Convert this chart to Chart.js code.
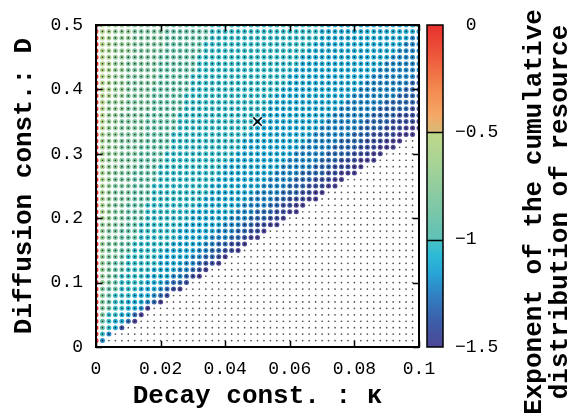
<!DOCTYPE html>
<html>
<head>
<meta charset="utf-8">
<script src="https://cdn.jsdelivr.net/npm/chart.js@4.4.1/dist/chart.umd.min.js"></script>
<style>
  html, body { margin: 0; padding: 0; background: #fff; }
  #wrap { width: 584px; height: 419px; }
</style>
</head>
<body>
<div id="wrap"><canvas id="c" width="584" height="419"></canvas></div>
<script>
// grid of decay constants (x) and diffusion constants (y)
const kappaValues = [0, 0.002, 0.004, 0.006, 0.008, 0.01, 0.012, 0.014, 0.016, 0.018,
  0.02, 0.022, 0.024, 0.026, 0.028, 0.03, 0.032, 0.034, 0.036, 0.038,
  0.04, 0.042, 0.044, 0.046, 0.048, 0.05, 0.052, 0.054, 0.056, 0.058,
  0.06, 0.062, 0.064, 0.066, 0.068, 0.07, 0.072, 0.074, 0.076, 0.078,
  0.08, 0.082, 0.084, 0.086, 0.088, 0.09, 0.092, 0.094, 0.096, 0.098, 0.1];
const diffValues = [0.01, 0.02, 0.03, 0.04, 0.05, 0.06, 0.07, 0.08, 0.09, 0.1,
  0.11, 0.12, 0.13, 0.14, 0.15, 0.16, 0.17, 0.18, 0.19, 0.2,
  0.21, 0.22, 0.23, 0.24, 0.25, 0.26, 0.27, 0.28, 0.29, 0.3,
  0.31, 0.32, 0.33, 0.34, 0.35, 0.36, 0.37, 0.38, 0.39, 0.4,
  0.41, 0.42, 0.43, 0.44, 0.45, 0.46, 0.47, 0.48, 0.49, 0.5];

// exponent level codes
const levelValues = { '0': 0, '1': -0.1, '2': -0.2, '3': -0.3, '4': -0.4, '5': -0.55, '6': -0.62,
  '7': -0.72, '8': -0.82, '9': -0.92, 'a': -1.03, 'b': -1.12, 'c': -1.22, 'd': -1.32, 'e': -1.42, 'f': -1.5 };

// one row per diffusion value, read left to right from kappa = 0 (run-length: "bx3" = b b b)
// cells past the end of a row have no exponent (small dots only)
const exponentRows = [
  "0 c",
  "0 a c",
  "0 9 a b e",
  "0 9 a bx2 d f",
  "0 8 ax2 bx2 d f",
  "0 8 9 ax2 bx2 c f",
  "0 8 9 ax2 bx3 c d f",
  "0 8 9 ax3 bx3 c d e",
  "0 8 9x2 ax3 bx3 c d e f",
  "0 7 8 9 ax4 bx3 c dx2 e",
  "0 7 8 9 ax4 bx4 cx2 d e f",
  "0 7 8 9x2 ax4 bx4 cx2 d e f",
  "0 7 8 9x2 ax5 bx4 cx2 d ex2 f",
  "0 7 8x2 9 ax5 bx5 cx2 dx2 e f",
  "0 7 8x2 9x2 ax5 bx5 cx2 dx2 ex2 f",
  "0 7 8x2 9x2 ax6 bx5 cx2 dx2 ex2 f",
  "0 7 8x2 9x3 ax6 bx5 cx3 dx2 e fx2",
  "0 7 8x2 9x3 ax6 bx6 cx3 dx2 ex2 f",
  "0 7x2 8x2 9x2 ax7 bx6 cx3 dx2 ex2 fx2",
  "0 6 7 8x2 9x3 ax7 bx6 cx3 dx3 ex2 f",
  "0 6 7 8x2 9x3 ax7 bx7 cx3 dx3 ex2 fx2",
  "0 6 7 8x2 9x3 ax8 bx7 cx4 dx2 ex2 fx2",
  "0 6 7 8x3 9x3 ax8 bx7 cx4 dx2 ex3 fx2",
  "0 6 7 8x3 9x3 ax9 bx7 cx4 dx3 ex2 fx2",
  "0 6 7 8x3 9x3 ax9 bx8 cx4 dx3 ex3 fx2",
  "0 6 7 8x3 9x4 ax9 bx8 cx4 dx3 ex3 fx2",
  "0 6 7 8x3 9x4 ax10 bx8 cx4 dx4 ex2 fx3",
  "0 6 7x2 8x3 9x3 ax10 bx9 cx5 dx3 ex3 fx2",
  "0 6 7x2 8x3 9x4 ax10 bx9 cx5 dx3 ex3 fx3",
  "0 6 7x2 8x3 9x4 ax11 bx9 cx5 dx4 ex3 fx2",
  "0 6 7x2 8x3 9x5 ax11 bx9 cx5 dx4 ex3 fx3",
  "0 6 7x2 8x4 9x4 ax11 bx10 cx5 dx4 ex3 fx3",
  "0 6 7x2 8x4 9x4 ax12 bx10 cx6 dx3 ex4 fx3",
  "0 5 7x2 8x4 9x5 ax12 bx10 cx6 dx4 ex3 fx3",
  "0 5 7x2 8x4 9x5 ax12 bx11 cx6 dx4 ex4 f",
  "0 5 7x2 8x4 9x5 ax13 bx11 cx6 dx4 ex4",
  "0 5 7x3 8x4 9x5 ax13 bx11 cx6 dx5 ex2",
  "0 5 7x3 8x4 9x5 ax13 bx12 cx6 dx5 e",
  "0 5 6 7x2 8x4 9x5 ax14 bx12 cx7 dx4",
  "0 5 6 7x2 8x4 9x6 ax14 bx12 cx7 dx3",
  "0 5 6 7x2 8x5 9x5 ax15 bx12 cx7 dx2",
  "0 5 6 7x2 8x5 9x5 ax15 bx13 cx7 d",
  "0 5 6 7x2 8x5 9x6 ax15 bx13 cx7",
  "0 5 6 7x2 8x5 9x6 ax16 bx13 cx6",
  "0 5 6 7x2 8x5 9x6 ax16 bx14 cx5",
  "0 5 6 7x3 8x5 9x6 ax16 bx14 cx4",
  "0 5 6 7x3 8x5 9x6 ax17 bx14 cx3",
  "0 5 6 7x3 8x5 9x7 ax17 bx14 cx2",
  "1 5 6 7x3 8x5 9x7 ax17 bx15 c",
  "3 5 6 7x3 8x6 9x6 ax18 bx15"
];

const marker = [{ x: 0.05, y: 0.35 }];

const xTicks = [0, 0.02, 0.04, 0.06, 0.08, 0.1];
const xTickLabels = ['0', '0.02', '0.04', '0.06', '0.08', '0.1'];
const yTicks = [0, 0.1, 0.2, 0.3, 0.4, 0.5];
const yTickLabels = ['0', '0.1', '0.2', '0.3', '0.4', '0.5'];
const cbTicks = [0, -0.5, -1, -1.5];
const cbTickLabels = [' 0', '\u22120.5', '\u22121', '\u22121.5'];

// colour map, from 0 down to -1.5
const stops = [
  [0, '#e8302e'], [-0.15, '#ee5a3c'], [-0.3, '#f38a50'], [-0.42, '#f5a866'], [-0.499, '#d8bb78'],
  [-0.5, '#c0d98a'], [-0.65, '#a6d396'], [-0.82, '#84c9a4'], [-0.999, '#5ec1b6'],
  [-1.0, '#4cc1c2'], [-1.07, '#2dbbd6'], [-1.16, '#28a4d6'], [-1.26, '#3180c2'],
  [-1.38, '#3c5ea8'], [-1.5, '#4e4796']
];

function hex(c) { return [1, 3, 5].map(i => parseInt(c.substr(i, 2), 16)); }
function colorFor(v) {
  if (v >= stops[0][0]) return stops[0][1];
  for (let i = 1; i < stops.length; i++) {
    if (v >= stops[i][0]) {
      const a = hex(stops[i - 1][1]), b = hex(stops[i][1]);
      const t = (stops[i - 1][0] - v) / (stops[i - 1][0] - stops[i][0]);
      const m = a.map((q, k) => Math.round(q + (b[k] - q) * t));
      return 'rgb(' + m.join(',') + ')';
    }
  }
  return stops[stops.length - 1][1];
}

function decodeRow(s) {
  const out = [];
  s.split(' ').forEach(tok => {
    const parts = tok.split('x');
    const n = parts[1] ? +parts[1] : 1;
    for (let k = 0; k < n; k++) out.push(parts[0]);
  });
  return out;
}

const colored = [];
exponentRows.forEach((row, i) => {
  decodeRow(row).forEach((ch, j) => {
    colored.push({ x: kappaValues[j], y: diffValues[i], v: levelValues[ch] });
  });
});
const gridDots = [];
diffValues.forEach(y => kappaValues.forEach(x => gridDots.push({ x, y })));

const monoFont = '"Liberation Mono", "Courier New", monospace';

const framePlugin = {
  id: 'frame',
  afterDraw(chart) {
    const { ctx, chartArea: a, scales } = chart;
    ctx.save();
    ctx.strokeStyle = '#000';
    // inward ticks
    ctx.lineWidth = 1.5;
    ctx.beginPath();
    xTicks.forEach(v => {
      const px = Math.round(scales.x.getPixelForValue(v)) + 0.5;
      ctx.moveTo(px, a.bottom); ctx.lineTo(px, a.bottom - 6);
      ctx.moveTo(px, a.top); ctx.lineTo(px, a.top + 6);
    });
    yTicks.forEach(v => {
      const py = Math.round(scales.y.getPixelForValue(v)) + 0.5;
      ctx.moveTo(a.left, py); ctx.lineTo(a.left + 6, py);
      ctx.moveTo(a.right, py); ctx.lineTo(a.right - 6, py);
    });
    ctx.stroke();
    ctx.lineWidth = 2;
    ctx.strokeRect(a.left, a.top, a.right - a.left, a.bottom - a.top);

    // colour bar
    const cbL = 427, cbW = 16, cbT = a.top, cbB = a.bottom;
    for (let py = cbT; py < cbB; py++) {
      const v = -1.5 * (py + 0.5 - cbT) / (cbB - cbT);
      ctx.fillStyle = colorFor(v);
      ctx.fillRect(cbL, py, cbW, 1);
    }
    ctx.lineWidth = 1.5;
    ctx.strokeRect(cbL, cbT, cbW, cbB - cbT);
    ctx.fillStyle = '#000';
    ctx.font = '18px ' + monoFont;
    ctx.textAlign = 'left';
    ctx.textBaseline = 'middle';
    cbTicks.forEach((v, i) => {
      const py = cbT + (cbB - cbT) * (v / -1.5);
      if (v < 0 && v > -1.5) {
        ctx.beginPath();
        ctx.moveTo(cbL, Math.round(py) + 0.5);
        ctx.lineTo(cbL + cbW, Math.round(py) + 0.5);
        ctx.stroke();
      }
      ctx.fillText(cbTickLabels[i], 455, py);
    });

    // titles
    ctx.font = 'bold 26px ' + monoFont;
    ctx.textAlign = 'center';
    ctx.textBaseline = 'alphabetic';
    ctx.fillText('Decay const. : \u03ba', (a.left + a.right) / 2, 403);
    ctx.save();
    ctx.translate(31, (a.top + a.bottom) / 2);
    ctx.rotate(-Math.PI / 2);
    ctx.fillText('Diffusion const.: D', 0, 0);
    ctx.restore();
    ctx.save();
    ctx.translate(541, 212);
    ctx.rotate(-Math.PI / 2);
    ctx.fillText('Exponent of the cumulative', 0, 0);
    ctx.fillText('distribution of resource', 0, 26);
    ctx.restore();
    ctx.restore();
  }
};

new Chart(document.getElementById('c'), {
  type: 'scatter',
  data: {
    datasets: [
      {
        data: marker,
        pointStyle: 'crossRot',
        pointRadius: 6,
        pointBorderColor: '#000',
        pointBorderWidth: 1.5,
      },
      {
        data: gridDots,
        pointRadius: 0.85,
        pointBackgroundColor: 'rgba(0,0,0,0.7)',
        pointBorderWidth: 0,
      },
      {
        data: colored,
        pointRadius: 2.5,
        pointBackgroundColor: colored.map(p => colorFor(p.v)),
        pointBorderWidth: 0,
      },
    ],
  },
  options: {
    responsive: false,
    animation: false,
    events: [],
    layout: { padding: { top: 25, right: 165, left: 0, bottom: 0 } },
    plugins: { legend: { display: false }, tooltip: { enabled: false } },
    scales: {
      x: {
        type: 'linear',
        min: 0,
        max: 0.1,
        grid: { display: false, drawTicks: false },
        border: { display: false },
        afterBuildTicks: s => { s.ticks = xTicks.map(v => ({ value: v })); },
        afterFit: s => { s.height = 72; },
        ticks: {
          autoSkip: false,
          maxRotation: 0,
          padding: 11,
          color: '#000',
          font: { family: monoFont, size: 18 },
          callback: (v, i) => xTickLabels[i],
        },
      },
      y: {
        type: 'linear',
        min: 0,
        max: 0.5,
        grid: { display: false, drawTicks: false },
        border: { display: false },
        afterBuildTicks: s => { s.ticks = yTicks.map(v => ({ value: v })); },
        afterFit: s => { s.width = 96; },
        ticks: {
          autoSkip: false,
          padding: 13,
          color: '#000',
          font: { family: monoFont, size: 18 },
          callback: (v, i) => yTickLabels[i],
        },
      },
    },
  },
  plugins: [framePlugin],
});
</script>
</body>
</html>
